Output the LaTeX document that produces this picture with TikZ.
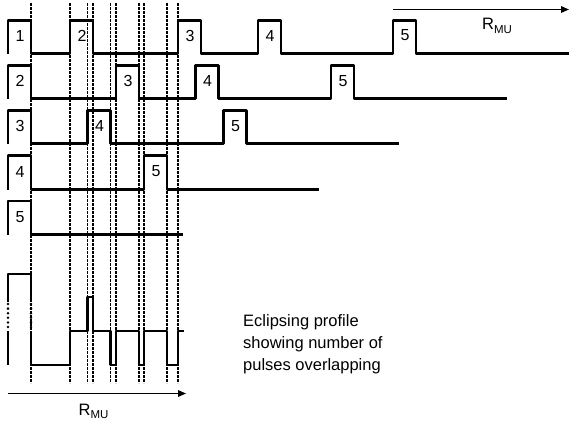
\documentclass[tikz,border=0pt]{standalone}
\usepackage{fontspec}
\setmainfont{Liberation Sans}
\usetikzlibrary{arrows.meta}
\newcommand\rmuLabel{R\raisebox{-3.3pt}{\fontsize{11.5}{12}\selectfont MU}}
\begin{document}
\begin{tikzpicture}[x=1pt,y=-1pt,
  pulse/.style={line width=2.8pt, line join=round},
  dotgap/.style={line width=2.8pt, dash pattern=on 0pt off 4.6pt, line cap=round},
  guide/.style={line width=1.3pt, dash pattern=on 2.6pt off 1.4pt},
  num/.style={inner sep=0pt, font=\fontsize{16}{19}\selectfont},
  axis/.style={line width=1.5pt, -{Triangle[length=8pt,width=6.5pt]}},
  lbl/.style={inner sep=0pt, anchor=base west, font=\fontsize{16.5}{20}\selectfont},
]
\useasboundingbox (0,0) rectangle (569,428);

% dashed guide lines
\foreach \x in {31,70,87.5,93,110.5,116,139,144,167,178}
  \draw[guide] (\x,3) -- (\x,383);

% row 1
\draw[pulse] (8,53.5) -- (8,20.5) -- (31,20.5) -- (31,53.5) -- (70,53.5) -- (70,20.5) -- (93,20.5) -- (93,53.5)
  -- (178,53.5) -- (178,20.5) -- (201,20.5) -- (201,53.5) -- (258,53.5) -- (258,20.5) -- (281,20.5) -- (281,53.5)
  -- (393,53.5) -- (393,20.5) -- (416,20.5) -- (416,53.5) -- (569,53.5);
\node[num] (r1a) at (20,35.5) {1};
\node[num] (r1b) at (82,35.5) {2};
\node[num] (r1c) at (190,35.5) {3};
\node[num] (r1d) at (270,35.5) {4};
\node[num] (r1e) at (405,35.5) {5};

% row 2
\draw[pulse] (8,98.5) -- (8,65.5) -- (31,65.5) -- (31,98.5) -- (116,98.5) -- (116,65.5) -- (139,65.5) -- (139,98.5)
  -- (195.5,98.5) -- (195.5,65.5) -- (218.5,65.5) -- (218.5,98.5) -- (331,98.5) -- (331,65.5) -- (354,65.5) -- (354,98.5)
  -- (507,98.5);
\node[num] (r2a) at (20,81) {2};
\node[num] (r2b) at (128,81) {3};
\node[num] (r2c) at (207.5,81) {4};
\node[num] (r2d) at (343,81) {5};

% row 3
\draw[pulse] (8,143.5) -- (8,110.5) -- (31,110.5) -- (31,143.5) -- (87.5,143.5) -- (87.5,110.5) -- (110.5,110.5) -- (110.5,143.5)
  -- (223.5,143.5) -- (223.5,110.5) -- (246.5,110.5) -- (246.5,143.5) -- (399,143.5);
\node[num] (r3a) at (20,126) {3};
\node[num] (r3b) at (99.5,126) {4};
\node[num] (r3c) at (235.5,126) {5};

% row 4
\draw[pulse] (8,189.5) -- (8,155.5) -- (31,155.5) -- (31,189.5) -- (144,189.5) -- (144,155.5) -- (167,155.5) -- (167,189.5)
  -- (319,189.5);
\node[num] (r4a) at (20,171.5) {4};
\node[num] (r4b) at (156,171.5) {5};

% row 5
\draw[pulse] (8,234.5) -- (8,201) -- (31,201) -- (31,234.5) -- (183,234.5);
\node[num] (r5a) at (20,217) {5};

% eclipsing profile
\draw[pulse] (8,302) -- (8,274) -- (31,274) -- (31,302);
\draw[dotgap] (8,304) -- (8,331);
\draw[dotgap] (31,304) -- (31,331);
\draw[pulse] (8,331) -- (8,365);
\draw[pulse] (31,331) -- (31,365) -- (70,365) -- (70,331) -- (87.5,331) -- (87.5,297) -- (93,297) -- (93,331)
  -- (110.5,331) -- (110.5,365) -- (116,365) -- (116,331) -- (139,331) -- (139,365) -- (144,365) -- (144,331)
  -- (167,331) -- (167,365) -- (178,365) -- (178,331) -- (184,331);

% axes
\coordinate (ba) at (8,393.5);
\coordinate (bb) at (186,393.5);
\draw[axis] (ba) -- (bb);
\node[lbl] (rmub) at (78.5,415) {\rmuLabel};

\coordinate (ta) at (393,9.5);
\coordinate (tb) at (569,9.5);
\draw[axis] (ta) -- (tb);
\node[lbl] (rmut) at (482,30) {\rmuLabel};

% note
\node[inner sep=0pt, anchor=north west, align=left, font=\fontsize{16.5}{21.7}\selectfont] (note)
  at (243,314.5) {Eclipsing profile\\showing number of\\pulses overlapping};
\end{tikzpicture}
\end{document}
